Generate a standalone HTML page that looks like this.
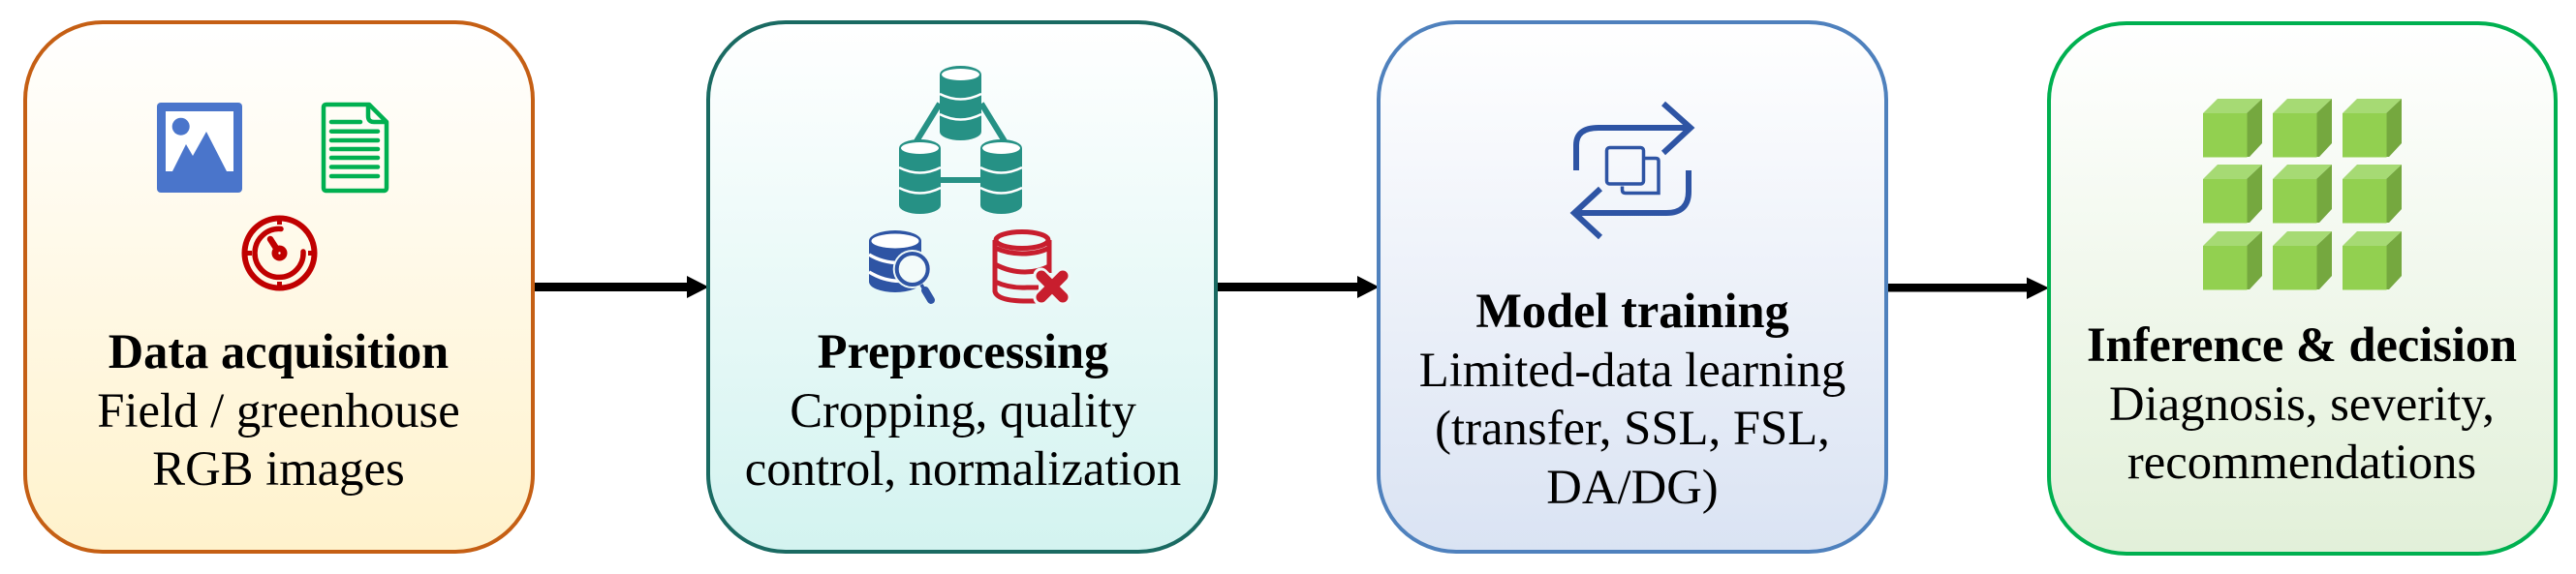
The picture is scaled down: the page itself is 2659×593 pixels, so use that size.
<!DOCTYPE html>
<html lang="en">
<head>
<meta charset="utf-8">
<title>Pipeline diagram</title>
<style>
html,body{margin:0;padding:0;background:#fff;width:2659px;height:593px;overflow:hidden}
svg{display:block}
text{font-family:"Liberation Serif","Times New Roman",serif;font-size:50.7px;fill:#000;text-anchor:middle}
.b{font-weight:bold;font-size:50.4px}
</style>
</head>
<body>
<svg xmlns="http://www.w3.org/2000/svg" width="2659" height="593" viewBox="0 0 2659 593">
<defs>
<linearGradient id="g1" x1="0" y1="0" x2="0" y2="1"><stop offset="0" stop-color="#fff"/><stop offset="1" stop-color="#fff2cc"/></linearGradient>
<linearGradient id="g2" x1="0" y1="0" x2="0" y2="1"><stop offset="0" stop-color="#fff"/><stop offset="1" stop-color="#d3f3f0"/></linearGradient>
<linearGradient id="g3" x1="0" y1="0" x2="0" y2="1"><stop offset="0" stop-color="#fff"/><stop offset="1" stop-color="#dae3f3"/></linearGradient>
<linearGradient id="g4" x1="0" y1="0" x2="0" y2="1"><stop offset="0" stop-color="#fff"/><stop offset="1" stop-color="#e2f0d9"/></linearGradient>
<g id="cyl">
<path d="M970,77 A21.5,9 0 0 1 1013,77 V136 A21.5,9 0 0 1 970,136 Z" fill="#269185"/>
<ellipse cx="991.5" cy="77" rx="19.5" ry="6" fill="#fff"/>
<path d="M970,97 Q991.5,108 1013,97 M970,118 Q991.5,129 1013,118" fill="none" stroke="#fff" stroke-width="2.500"/>
</g>
<g id="cube">
<polygon points="0,15 15,0 61,0 45,15" fill="#a6da74"/>
<polygon points="45,15 61,0 61,46 48,60 45,60" fill="#75a83f"/>
<rect x="0" y="15" width="45.500" height="45.500" fill="#92d050"/>
</g>
</defs>

<!-- connectors -->
<g fill="#000">
<rect x="549" y="292" width="163" height="9"/>
<polygon points="709,285 731.500,296.500 709,308"/>
<rect x="1254" y="292" width="150" height="9"/>
<polygon points="1401,285 1423.500,296.500 1401,308"/>
<rect x="1946" y="293" width="149" height="8.500"/>
<polygon points="2092,286.500 2115,297.500 2092,309"/>
</g>

<!-- boxes -->
<rect x="26" y="23" width="524" height="547" rx="80" ry="80" fill="url(#g1)" stroke="#c55f14" stroke-width="4"/>
<rect x="731" y="23" width="524" height="547" rx="80" ry="80" fill="url(#g2)" stroke="#1a6a62" stroke-width="4"/>
<rect x="1423" y="23" width="524" height="547" rx="80" ry="80" fill="url(#g3)" stroke="#4f81bd" stroke-width="4"/>
<rect x="2115" y="24" width="523" height="548" rx="80" ry="80" fill="url(#g4)" stroke="#00b050" stroke-width="4"/>

<!-- image icon -->
<rect x="162" y="106" width="88" height="93" rx="4" fill="#4a75cb"/>
<rect x="171" y="115" width="70" height="62" fill="#fff"/>
<circle cx="186.700" cy="130.700" r="9" fill="#4a75cb"/>
<polygon points="178,177 192,149 199,161 213,136 234,177" fill="#4a75cb"/>

<!-- document icon -->
<g fill="none" stroke="#00b050" stroke-width="4.500" stroke-linejoin="round">
<path d="M337,108 H381 L399,126 V194 Q399,197 396,197 H337 Q334,197 334,194 V111 Q334,108 337,108 Z"/>
<path d="M380,108 V120 Q380,126 386,126 H399"/>
</g>
<g stroke="#00b050" stroke-width="4.500" stroke-linecap="round">
<path d="M342,126 H372 M342,135.700 H390 M342,145 H390 M342,154 H390 M342,163 H390 M342,172.500 H390 M342,182 H390"/>
</g>

<!-- gauge icon -->
<g fill="none" stroke="#c00000">
<circle cx="288.500" cy="261.500" r="36" stroke-width="6"/>
<path d="M290,236.500 A25,25 0 1 0 313,260" stroke-width="5.500" stroke-linecap="round"/>
<path d="M288.500,225 V232 M288.500,291 V298 M252,261.500 H260 M318,261.500 H325" stroke-width="5"/>
<path d="M279,247 L288,261" stroke-width="6.500" stroke-linecap="round"/>
</g>
<circle cx="288.500" cy="261.500" r="8" fill="#c00000"/>
<circle cx="288.500" cy="261.500" r="1.200" fill="#fff"/>

<!-- database cluster -->
<path d="M970,107 L946,146 M1013,107 L1037,146 M971,186 H1012" stroke="#269185" stroke-width="6" fill="none"/>
<use href="#cyl"/>
<use href="#cyl" x="-42" y="76"/>
<use href="#cyl" x="42" y="76"/>

<!-- blue db + magnifier -->
<path d="M897,249 A27,11 0 0 1 951,249 V291 A27,11 0 0 1 897,291 Z" fill="#2e54a4"/>
<ellipse cx="924" cy="249" rx="24.500" ry="7.500" fill="#fff"/>
<path d="M897,263 Q920,277 951,268 M897,281 Q920,295 945,288" fill="none" stroke="#fff" stroke-width="3.500"/>
<circle cx="941.700" cy="278" r="20" fill="#eef9f8"/>
<circle cx="941.700" cy="278" r="16" fill="#f3fbfa" stroke="#2e54a4" stroke-width="4"/>
<path d="M951,294 L955,301" stroke="#2e54a4" stroke-width="3.500"/>
<path d="M955,300 L961,310" stroke="#2e54a4" stroke-width="8" stroke-linecap="round"/>

<!-- red db + x -->
<g fill="none" stroke="#c81e2e" stroke-width="5">
<ellipse cx="1055" cy="248" rx="27" ry="8.500"/>
<path d="M1027,248 V301 Q1029,311 1060,311 H1070"/>
<path d="M1083,248 V282"/>
<path d="M1027,256 Q1040,262 1055,262 Q1072,262 1083,256"/>
<path d="M1027,273 Q1042,281 1058,281 Q1072,281 1083,275"/>
<path d="M1027,291 Q1042,298 1060,297 H1072"/>
</g>
<path d="M1074.500,284.500 L1097.500,307.500 M1097.500,284.500 L1074.500,307.500" stroke="#eef9f8" stroke-width="16" stroke-linecap="round"/>
<path d="M1075,285 L1097,307 M1097,285 L1075,307" stroke="#c81e2e" stroke-width="11" stroke-linecap="round"/>

<!-- transfer icon -->
<g fill="none" stroke="#2e54a4" stroke-width="6">
<path d="M1627,176 V150 Q1627,132 1650,132 H1742"/>
<path d="M1717,107 L1745,132 L1717,158" stroke-linejoin="miter"/>
<path d="M1743,176 V198 Q1743,220 1720,220 H1628"/>
<path d="M1652,195 L1625,220 L1652,245" stroke-linejoin="miter"/>
</g>
<g fill="none" stroke="#2e54a4" stroke-width="3.500">
<rect x="1658.500" y="152.500" width="38" height="37.500" rx="3"/>
<path d="M1698,163.500 H1709 Q1712,163.500 1712,166 V199.500 H1678 Q1674.500,199.500 1674.500,196 V192.500"/>
</g>

<!-- cubes -->
<use href="#cube" x="2274" y="102"/><use href="#cube" x="2346" y="102"/><use href="#cube" x="2418" y="102"/>
<use href="#cube" x="2274" y="170"/><use href="#cube" x="2346" y="170"/><use href="#cube" x="2418" y="170"/>
<use href="#cube" x="2274" y="239"/><use href="#cube" x="2346" y="239"/><use href="#cube" x="2418" y="239"/>

<!-- labels -->
<text class="b" x="287.500" y="380">Data acquisition</text>
<text x="287.500" y="441">Field / greenhouse</text>
<text x="287.500" y="501">RGB images</text>

<text class="b" x="994" y="380">Preprocessing</text>
<text x="994" y="441">Cropping, quality</text>
<text x="994" y="501">control, normalization</text>

<text class="b" x="1685" y="338">Model training</text>
<text x="1685" y="399">Limited-data learning</text>
<text x="1685" y="459">(transfer, SSL, FSL,</text>
<text x="1685" y="520">DA/DG)</text>

<text class="b" x="2376" y="373">Inference &amp; decision</text>
<text x="2376" y="434">Diagnosis, severity,</text>
<text x="2376" y="494">recommendations</text>
</svg>
</body>
</html>
